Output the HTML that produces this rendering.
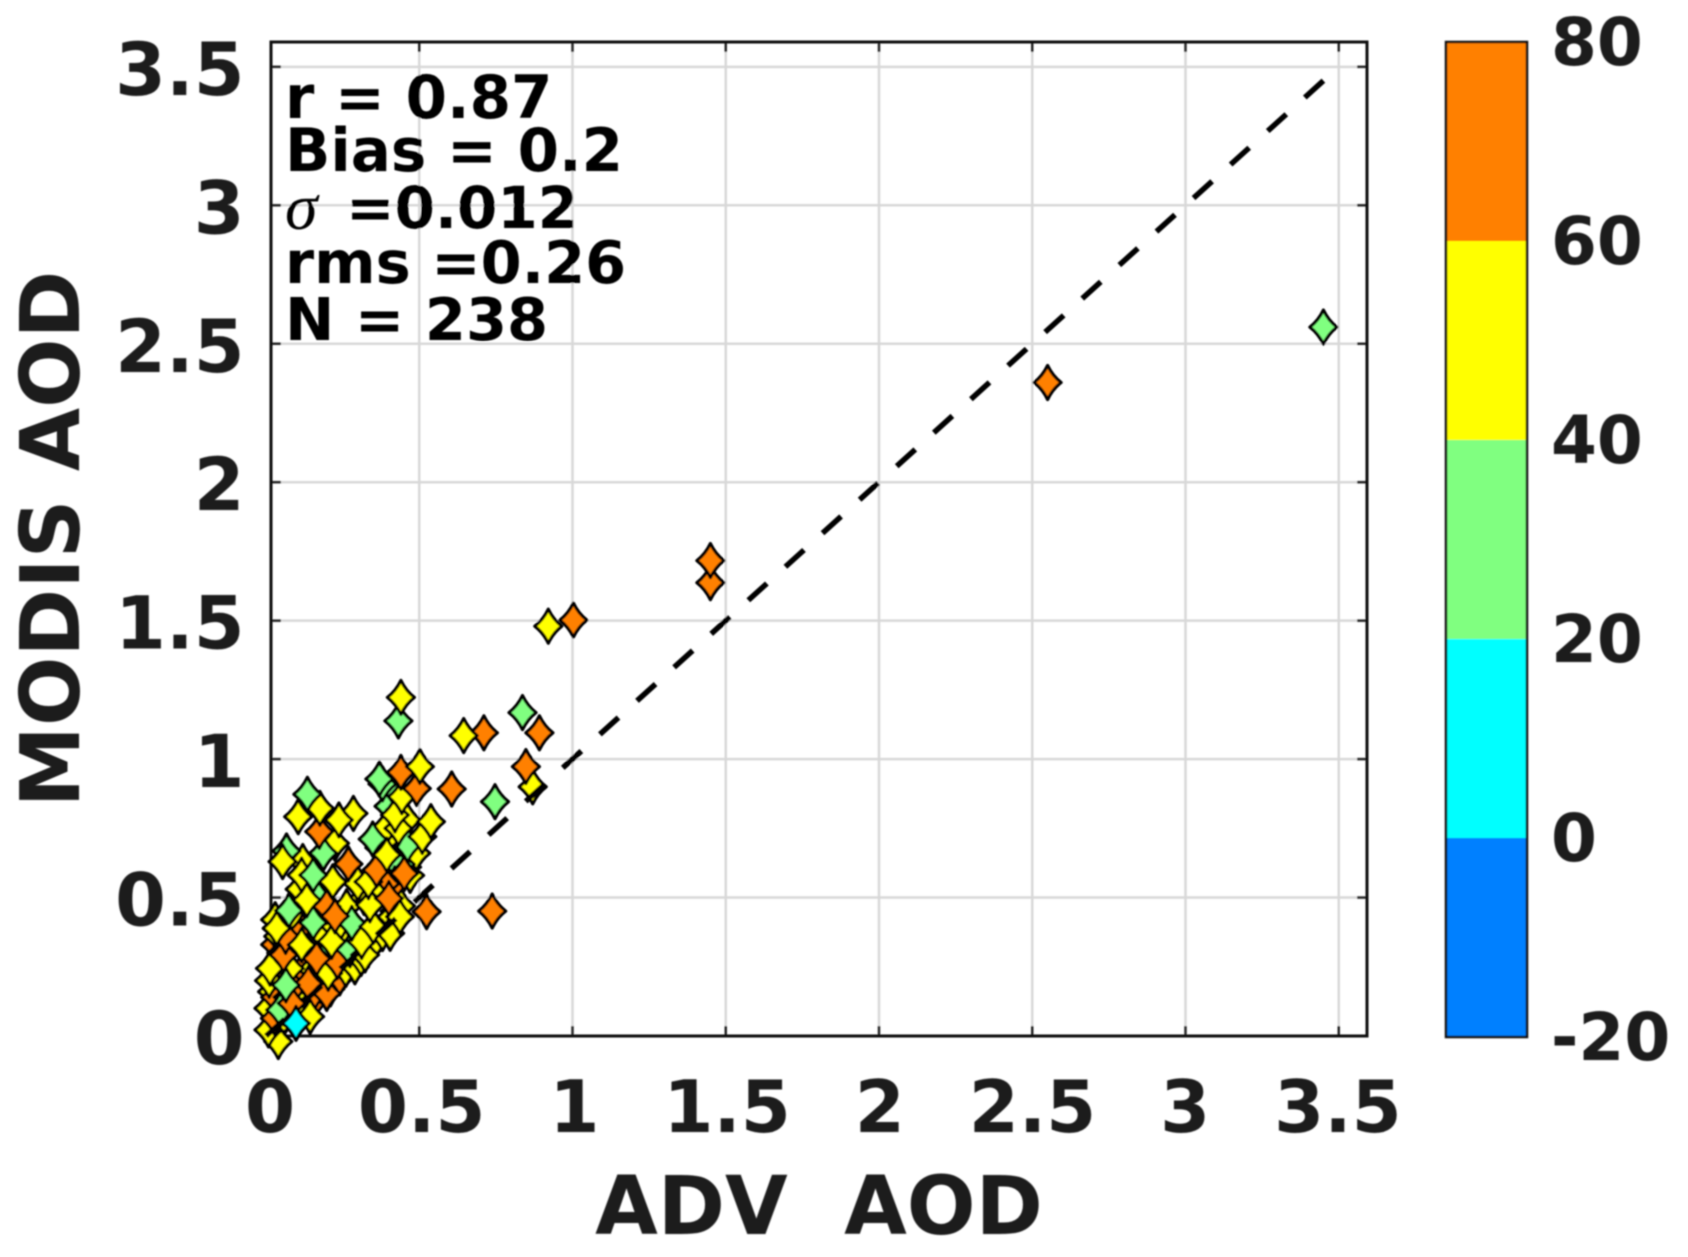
<!DOCTYPE html>
<html lang="en">
<head>
<meta charset="utf-8">
<title>MODIS AOD vs ADV AOD</title>
<style>
html,body{margin:0;padding:0;background:#fff;}
svg{display:block;}
text{font-family:"DejaVu Sans","Liberation Sans",sans-serif;font-weight:bold;}
</style>
</head>
<body>
<svg id="chart" xmlns="http://www.w3.org/2000/svg" width="1688" height="1257" viewBox="0 0 1688 1257">
  <defs>
    <filter id="soft" x="-2%" y="-2%" width="104%" height="104%"><feGaussianBlur stdDeviation="0.9"/></filter>
  </defs>
  <rect width="1688" height="1257" fill="#fff"/>
  <g id="root" filter="url(#soft)">
    <g id="grid"></g>
    <g id="axes"></g>
    <g id="stats">
      <text x="285" y="118" font-size="59.5" fill="#000">r = 0.87</text>
      <text x="285" y="171" font-size="59.5" fill="#000">Bias = 0.2</text>
      <text x="285" y="229" font-size="66" fill="#000" style="font-family:'Liberation Serif',serif;font-style:italic;font-weight:normal">σ</text>
      <text x="346" y="228" font-size="58" fill="#000">=0.012</text>
      <text x="285" y="283" font-size="59" fill="#000">rms =0.26</text>
      <text x="285" y="340" font-size="59" fill="#000">N = 238</text>
    </g>
    <g id="points"></g>
    <line id="refline" stroke="#000" stroke-width="5.5" stroke-dasharray="25 25"/>
    <g id="colorbar"></g>
    <text x="819" y="1234" font-size="81" text-anchor="middle" fill="#1e1e1e" xml:space="preserve">ADV  AOD</text>
    <text transform="translate(79,539) rotate(-90)" font-size="81.7" text-anchor="middle" fill="#1e1e1e">MODIS AOD</text>
  </g>
</svg>
<script>
const xTicks = [0, 0.5, 1, 1.5, 2, 2.5, 3, 3.5];
const yTicks = [0, 0.5, 1, 1.5, 2, 2.5, 3, 3.5];
const xTickLabels = ['0', '0.5', '1', '1.5', '2', '2.5', '3', '3.5'];
const yTickLabels = ['0', '0.5', '1', '1.5', '2', '2.5', '3', '3.5'];
const refLine = [0, 3.46];
const colorEdges = [-20, 0, 20, 40, 60, 80];
const colorBins = ['#0080ff', '#00ffff', '#80ff80', '#ffff00', '#ff8000'];
const colorTickLabels = ['-20', '0', '20', '40', '60', '80'];

const advAod = [
  .008,.02,.03,.01,.05,.03,.06,.09,.07,.11,.13,.10,.16,.18,.15,.21,.24,.26,.29,.31,.33,.30,.27,.25,
  .36,.38,.40,.42,.44,.41,.47,.46,.49,.44,.41,.45,.40,.37,.42,.39,.36,.32,.30,.03,.04,.03,.05,.10,
  .12,.18,.20,.12,.11,.17,.22,.24,.26,.08,.12,.15,.16,.19,.44,.40,.46,.42,.38,
  .040,.008,.144,.029,.046,.084,.198,.138,.203,.078,.013,.065,.233,.057,.165,.274,.323,.312,.263,.280,
  .214,.064,.116,.035,.154,.198,.225,.075,.133,.116,.067,.054,.218,.154,.269,.225,.187,.174,.285,.238,
  .105,.176,.135,.350,.405,.437,.339,.401,.334,.394,.361,.451,.524,.738,.462,.348,.394,.432,.421,.510,
  .538,.443,.370,.492,.440,.502,.606,.747,.870,.848,.892,.837,.711,.645,.432,.440,.921,1.003,1.45,1.45,
  2.55,3.45,.098
];
const modisAod = [
  .10,.16,.14,.20,.05,.03,.10,.07,.14,.10,.15,.19,.13,.18,.20,.17,.21,.24,.25,.28,.31,.33,.35,.30,
  .35,.37,.40,.45,.47,.43,.58,.61,.66,.62,.64,.72,.70,.68,.55,.55,.51,.50,.55,.33,.36,.42,.30,.42,
  .38,.37,.30,.63,.53,.50,.40,.36,.32,.22,.24,.24,.16,.21,.80,.83,.78,.89,.91,
  -.020,.022,.070,.064,.094,.118,.154,.190,.226,.244,.244,.184,.268,.293,.280,.311,.293,.341,.467,.407,
  .341,.359,.329,.389,.409,.467,.433,.453,.491,.581,.668,.630,.557,.581,.621,.696,.660,.738,.804,.780,
  .792,.822,.873,.395,.371,.431,.473,.497,.557,.756,.599,.587,.449,.451,.690,.711,.654,.750,.798,.720,
  .774,.864,.928,.894,.952,.973,.892,.846,.900,.973,1.095,1.168,1.095,1.085,1.138,1.223,1.480,1.502,1.637,1.717,
  2.36,2.56,.046
];
const colorValue = [
  50,50,70,50,70,50,50,70,50,50,50,70,70,50,50,50,70,50,50,50,50,50,70,50,
  50,50,50,50,50,50,50,50,50,30,30,30,50,70,70,70,50,50,50,70,50,50,50,50,
  70,50,30,50,50,30,50,50,50,70,70,50,70,50,30,30,50,30,30,
  50,50,50,70,30,70,70,70,50,50,50,30,70,70,70,30,50,50,50,30,
  50,70,50,50,30,70,70,30,50,50,30,50,50,30,70,50,30,70,50,50,
  50,50,30,50,50,50,50,70,50,50,70,70,70,70,30,30,50,50,50,50,
  50,50,30,70,70,50,70,30,50,70,70,30,70,50,30,50,50,70,70,70,
  70,30,10
];

const NS = 'http://www.w3.org/2000/svg';
const plot = {left: 271, right: 1367, top: 42, bottom: 1036};
const cbar = {left: 1446, right: 1527, top: 42, bottom: 1037};
function xScale(v) { return 266 + 306.5 * v; }
function yScale(v) { return 1036 - 276.9 * v; }
function cScale(v) { return cbar.bottom - (v - colorEdges[0]) / (colorEdges[colorEdges.length - 1] - colorEdges[0]) * (cbar.bottom - cbar.top); }
function binColor(v) {
  for (let i = 0; i < colorBins.length; i++) {
    if (v < colorEdges[i + 1]) return colorBins[i];
  }
  return colorBins[colorBins.length - 1];
}
function mk(tag, parent, props) {
  const el = document.createElementNS(NS, tag);
  for (const k in props) el.setAttribute(k, props[k]);
  parent.appendChild(el);
  return el;
}

const grid = document.getElementById('grid');
const axes = document.getElementById('axes');
const pts = document.getElementById('points');
const cb = document.getElementById('colorbar');

xTicks.forEach(function (t, i) {
  const px = xScale(t);
  if (t > 0) {
    const g = mk('line', grid, {x1: px, x2: px, y1: plot.top, y2: plot.bottom, stroke: '#d8d8d8', 'stroke-width': 2.5});
    
    
    const a = mk('line', axes, {x1: px, x2: px, y1: plot.bottom, y2: plot.bottom - 10, stroke: '#222', 'stroke-width': 2.5});
    
    
    const b = mk('line', axes, {x1: px, x2: px, y1: plot.top, y2: plot.top + 10, stroke: '#222', 'stroke-width': 2.5});
    
    
  }
  const lab = mk('text', axes, {x: t === 0 ? px + 4 : px + 3 - 1.1 * t, y: 1132, 'font-size': 72, 'text-anchor': 'middle', fill: '#1e1e1e'});
  
  
  lab.textContent = xTickLabels[i];
});

yTicks.forEach(function (t, i) {
  const py = yScale(t);
  if (t > 0) {
    const g = mk('line', grid, {x1: plot.left, x2: plot.right, y1: py, y2: py, stroke: '#d8d8d8', 'stroke-width': 2.5});
    
    
    const a = mk('line', axes, {x1: plot.left, x2: plot.left + 10, y1: py, y2: py, stroke: '#222', 'stroke-width': 2.5});
    
    
    const b = mk('line', axes, {x1: plot.right, x2: plot.right - 10, y1: py, y2: py, stroke: '#222', 'stroke-width': 2.5});
    
    
  }
  const lab = mk('text', axes, {x: 244.5, y: py + 28, 'font-size': 73, 'text-anchor': 'end', fill: '#1e1e1e'});
  
  
  lab.textContent = yTickLabels[i];
});

const frame = mk('rect', axes, {x: plot.left, y: plot.top, width: plot.right - plot.left, height: plot.bottom - plot.top, fill: 'none', stroke: '#111', 'stroke-width': 3});



const diamond = 'M0,-17 Q5,-6.5 13.5,0 Q5,6.5 0,17 Q-5,6.5 -13.5,0 Q-5,-6.5 0,-17 Z';
advAod.forEach(function (x, i) {
  const m = mk('path', pts, {
    d: diamond,
    transform: 'translate(' + xScale(x).toFixed(1) + ',' + yScale(modisAod[i]).toFixed(1) + ')',
    fill: binColor(colorValue[i]),
    stroke: '#000',
    'stroke-width': 3.2,
    'stroke-linejoin': 'round'
  });
  
  
});

const rl = document.getElementById('refline');
rl.setAttribute('x1', xScale(refLine[0]));
rl.setAttribute('y1', yScale(refLine[0]));
rl.setAttribute('x2', xScale(refLine[1]));
rl.setAttribute('y2', yScale(refLine[1]));

colorBins.forEach(function (c, i) {
  const top = cScale(colorEdges[i + 1]);
  const bot = cScale(colorEdges[i]);
  const r = mk('rect', cb, {x: cbar.left, y: top, width: cbar.right - cbar.left, height: bot - top, fill: c});
  
  
});
const cf = mk('rect', cb, {x: cbar.left, y: cbar.top, width: cbar.right - cbar.left, height: cbar.bottom - cbar.top, fill: 'none', stroke: '#111', 'stroke-width': 2.5});


colorEdges.forEach(function (v, i) {
  const t = mk('text', cb, {x: 1551, y: cScale(v) + 23, 'font-size': 66, fill: '#1a1a1a'});
  
  
  t.textContent = colorTickLabels[i];
});
</script>
</body>
</html>
